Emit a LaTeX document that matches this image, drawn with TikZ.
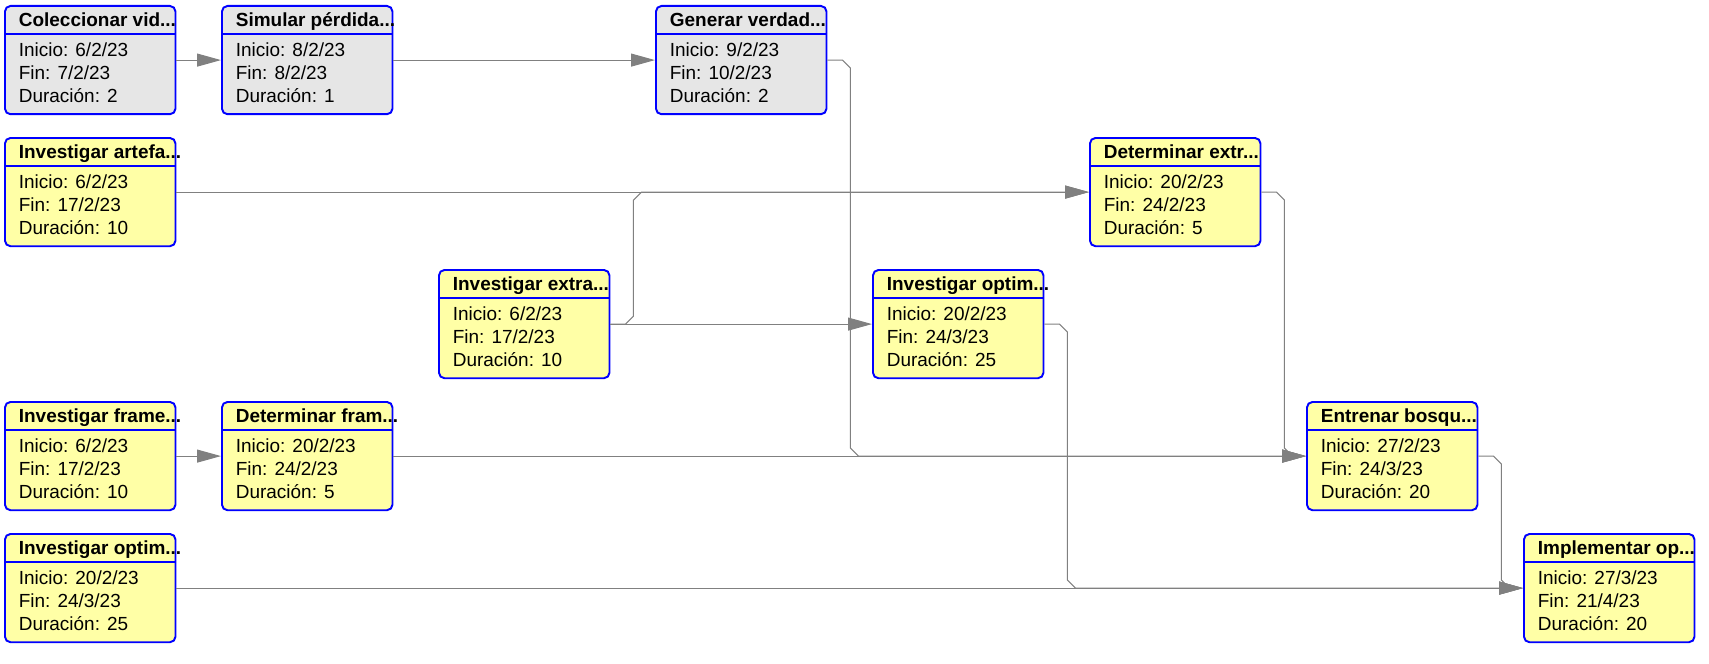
\documentclass[tikz,border=0pt]{standalone}
\usepackage{fontspec}
\setmainfont{Liberation Sans}
\usepackage{tikz}
\usetikzlibrary{arrows.meta, calc, positioning}
\definecolor{tareagris}{RGB}{230, 230, 230}
\definecolor{tareaamarillo}{RGB}{255, 255, 166}
\definecolor{bordeazul}{RGB}{0, 0, 255}
\definecolor{lineagris}{RGB}{128, 128, 128}
\tikzstyle{tarea} = [draw=bordeazul, line width=1.1pt, rectangle, rounded corners=0.11cm, minimum width=3.41cm, minimum height=2.165cm, anchor=north west, inner sep=0pt]
\tikzstyle{separador} = [bordeazul, line width=0.6pt]
\tikzstyle{titulo} = [anchor=base west, inner sep=0pt, font=\fontsize{10.8}{13}\selectfont\bfseries]
\tikzstyle{dato} = [anchor=base west, inner sep=0pt, font=\fontsize{10.8}{13}\selectfont]
\tikzstyle{arrow} = [line width=0.6pt, lineagris, -{Triangle[length=0.48cm, width=0.26cm]}]

% box: name, position, fill, title, start, end, duration
\newcommand{\nodotarea}[7]{%
  \node[tarea, fill=#3] (#1) at (#2) {};
  \draw[separador] ([yshift=-0.58cm]#1.north west) -- ([yshift=-0.58cm]#1.north east);
  \node[titulo] (#1-t) at ([shift={(0.29,-0.432)}]#1.north west) {#4};
  \node[dato] (#1-i) at ([shift={(0.29,-1.02)}]#1.north west) {Inicio: #5};
  \node[dato] (#1-f) at ([shift={(0.29,-1.486)}]#1.north west) {Fin: #6};
  \node[dato] (#1-d) at ([shift={(0.29,-1.94)}]#1.north west) {Duración: #7};
}

\begin{document}
\begin{tikzpicture}
\useasboundingbox (0,0) rectangle (34.18,-13.28);

% Task boxes
\nodotarea{col}{0.08,-0.1}{tareagris}{Coleccionar vid...}{6/2/23}{7/2/23}{2}
\nodotarea{sim}{4.42,-0.1}{tareagris}{Simular pérdida...}{8/2/23}{8/2/23}{1}
\nodotarea{gen}{13.1,-0.1}{tareagris}{Generar verdad...}{9/2/23}{10/2/23}{2}
\nodotarea{iart}{0.08,-2.74}{tareaamarillo}{Investigar artefa...}{6/2/23}{17/2/23}{10}
\nodotarea{dext}{21.78,-2.74}{tareaamarillo}{Determinar extr...}{20/2/23}{24/2/23}{5}
\nodotarea{iext}{8.76,-5.38}{tareaamarillo}{Investigar extra...}{6/2/23}{17/2/23}{10}
\nodotarea{iopt}{17.44,-5.38}{tareaamarillo}{Investigar optim...}{20/2/23}{24/3/23}{25}
\nodotarea{ifra}{0.08,-8.02}{tareaamarillo}{Investigar frame...}{6/2/23}{17/2/23}{10}
\nodotarea{dfra}{4.42,-8.02}{tareaamarillo}{Determinar fram...}{20/2/23}{24/2/23}{5}
\nodotarea{ent}{26.12,-8.02}{tareaamarillo}{Entrenar bosqu...}{27/2/23}{24/3/23}{20}
\nodotarea{iopb}{0.08,-10.66}{tareaamarillo}{Investigar optim...}{20/2/23}{24/3/23}{25}
\nodotarea{imp}{30.46,-10.66}{tareaamarillo}{Implementar op...}{27/3/23}{21/4/23}{20}

% Straight links
\draw[arrow] (col) -- (sim);
\draw[arrow] (sim) -- (gen);
\draw[arrow] (iart) -- (dext);
\draw[arrow] (iext) -- (iopt);
\draw[arrow] (ifra) -- (dfra);
\draw[arrow] (dfra) -- (ent);
\draw[arrow] (iopb) -- (imp);

% Bent links
\draw[arrow] let \p1=(gen.east), \p2=(ent.west) in (\p1) -- ++(0.3,0) -- ++(0.16,-0.16) -- (\x1+0.46cm,\y2+0.16cm) -- (\x1+0.62cm,\y2) -- (\p2);
\draw[arrow] let \p1=(iext.east), \p2=(dext.west) in (\p1) -- ++(0.3,0) -- ++(0.16,0.16) -- (\x1+0.46cm,\y2-0.16cm) -- (\x1+0.62cm,\y2) -- (\p2);
\draw[arrow] let \p1=(dext.east), \p2=(ent.west) in (\p1) -- ++(0.3,0) -- ++(0.16,-0.16) -- (\x1+0.46cm,\y2+0.16cm) -- (\x1+0.62cm,\y2) -- (\p2);
\draw[arrow] let \p1=(iopt.east), \p2=(imp.west) in (\p1) -- ++(0.3,0) -- ++(0.16,-0.16) -- (\x1+0.46cm,\y2+0.16cm) -- (\x1+0.62cm,\y2) -- (\p2);
\draw[arrow] let \p1=(ent.east), \p2=(imp.west) in (\p1) -- ++(0.3,0) -- ++(0.16,-0.16) -- (\x1+0.46cm,\y2+0.16cm) -- (\x1+0.62cm,\y2) -- (\p2);
\end{tikzpicture}
\end{document}
